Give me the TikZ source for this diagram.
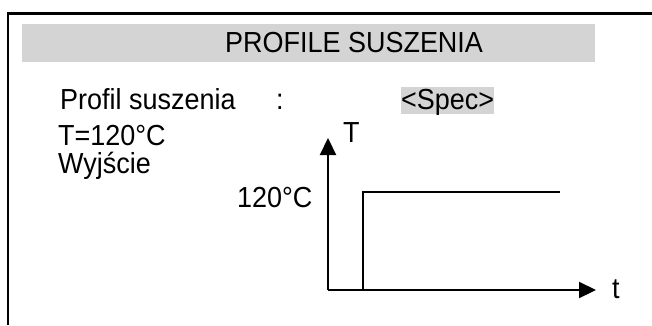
\documentclass[tikz,border=0pt]{standalone}
\usepackage{fontspec}
\setmainfont{Liberation Sans}[FakeStretch=0.93]
\usetikzlibrary{arrows.meta}

\definecolor{barGray}{RGB}{212,212,212}

\tikzset{
	lbl/.style={inner sep=0pt,anchor=base west,font=\fontsize{29}{34}\selectfont},
	axis/.style={line width=2.2pt,-{Triangle[length=17pt,width=16pt]}},
	profil/.style={line width=1.8pt}
}

\begin{document}
\begin{tikzpicture}[x=1pt,y=-1pt]

		\useasboundingbox (0,0) rectangle (652,325);

		% ramka ekranu
		\draw[line width=2.5pt] (8,325) -- (8,13.5) -- (652,13.5);

		% naglowek
		\fill[barGray] (22,24) rectangle (595,62);
		\node[lbl] (title) at (225,52) {PROFILE SUSZENIA};

		\node[lbl] (prof) at (60,109) {Profil suszenia};
		\node[lbl] (colon) at (276,109) {:};
		\node[lbl,fill=barGray,text height=22pt,text depth=5pt] (spec) at (401,109) {<Spec>};
		\node[lbl] (temp) at (58,145) {T=120°C};
		\node[lbl] (out) at (58,173) {Wyjście};

		% wykres
		\coordinate (o) at (328,290);
		\coordinate (ytip) at (328,138);
		\coordinate (xtip) at (596,290);
		\coordinate (s0) at (363,290);
		\coordinate (s1) at (363,192);
		\coordinate (s2) at (560,192);

		\draw[axis] (o) -- (ytip);
		\draw[axis] (o) -- (xtip);
		\draw[profil] (s0) -- (s1) -- (s2);

		\node[lbl] (ylab) at (343,142) {T};
		\node[lbl] (xlab) at (612,298) {t};
		\node[lbl] (lvl) at (237,207) {120°C};

\end{tikzpicture}
\end{document}
